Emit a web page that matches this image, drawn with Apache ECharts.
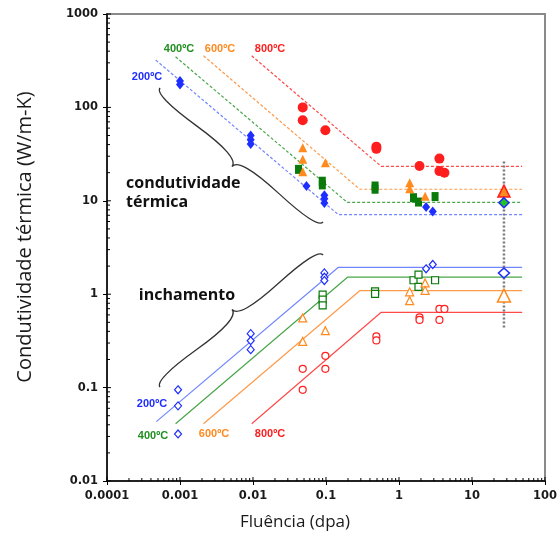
<!DOCTYPE html>
<html><head><meta charset="utf-8">
<script src="https://cdn.jsdelivr.net/npm/echarts@6/dist/echarts.min.js"></script>
<style>html,body{margin:0;padding:0;background:#fff}#c{width:560px;height:537px}</style>
</head><body><div id="c"></div>
<script>
// ---- axis tick labels ----
const xTickLabels = ['0.0001','0.001','0.01','0.1','1','10','100'];
const yTickLabels = ['0.01','0.1','1','10','100','1000'];

// ---- conductivity (filled markers) ----
const cond200 = [[0.001,192],[0.001,176],[0.0093,50],[0.0093,45],[0.0093,40.5],[0.054,14.4],[0.095,11.5],[0.095,10.5],[0.095,9.5],[2.35,8.6],[2.9,7.7]];
const cond400 = [[0.042,21.7],[0.089,16.2],[0.089,14.8],[0.47,14.4],[0.47,13.3],[1.58,10.8],[1.85,9.7],[3.12,11.1]];
const cond600 = [[0.048,37],[0.048,27.8],[0.048,20.5],[0.098,25.6],[1.4,15.6],[1.4,13.5],[2.28,11.2]];
const cond800 = [[0.048,100],[0.048,73],[0.098,57],[0.49,38],[0.49,36],[1.91,23.6],[3.58,28.3],[3.58,20.8],[4.19,20.0]];
const condSpecial600 = [[27.4,12.7]];
const condSpecial400 = [[27.4,9.55]];

// ---- swelling (open markers) ----
const sw200 = [[0.00094,0.0947],[0.00094,0.0638],[0.00094,0.0319],[0.0093,0.378],[0.0093,0.318],[0.0093,0.255],[0.095,1.69],[0.095,1.52],[0.095,1.40],[2.35,1.87],[2.9,2.08]];
const sw400 = [[0.09,0.99],[0.09,0.875],[0.09,0.76],[0.47,1.07],[0.47,1.01],[1.58,1.41],[1.85,1.62],[1.85,1.2],[3.12,1.41]];
const sw600 = [[0.048,0.557],[0.048,0.312],[0.098,0.407],[1.4,1.06],[1.4,0.853],[2.28,1.32],[2.28,1.1]];
const sw800 = [[0.048,0.159],[0.048,0.0947],[0.098,0.219],[0.098,0.159],[0.49,0.354],[0.49,0.32],[1.91,0.565],[1.91,0.53],[3.58,0.695],[4.19,0.695],[3.58,0.53]];
const swSpecial200 = [[27.4,1.69]];
const swSpecial600 = [[27.4,0.966]];

// ---- fitted trend lines (start, knee, end) ----
const condLine200 = [[0.000465,321],[0.148,7.1],[48.6,7.1]];
const condLine400 = [[0.00087,348],[0.196,9.6],[48.6,9.6]];
const condLine600 = [[0.0021,357],[0.29,13.3],[48.6,13.3]];
const condLine800 = [[0.0096,357],[0.57,23.4],[48.6,23.4]];
const swLine200 = [[0.000474,0.0432],[0.148,1.94],[48.6,1.94]];
const swLine400 = [[0.00087,0.041],[0.197,1.52],[48.6,1.52]];
const swLine600 = [[0.0021,0.041],[0.29,1.09],[48.6,1.09]];
const swLine800 = [[0.0096,0.041],[0.57,0.64],[48.6,0.64]];
const errorBar = [[27.4,26.3],[27.4,0.435]];

const BLUE='#1e2eff', GREEN='#0a7a0a', ORANGE='#ff8a1e', RED='#ff1e1e';
const LBLUE='#6f86ff', LGREEN='#4aa64a', LORANGE='#ff9a4a', LRED='#ff4a4a';

// minor tick values (2..9 per decade)
const xMinor=[], yMinor=[], xMajor=[], yMajor=[];
for(let e=-4;e<2;e++) for(let m=2;m<10;m++) xMinor.push([m*Math.pow(10,e)]);
for(let e=-2;e<3;e++) for(let m=2;m<10;m++) yMinor.push([m*Math.pow(10,e)]);
for(let e=-4;e<=2;e++) xMajor.push([Math.pow(10,e)]);
for(let e=-2;e<=3;e++) yMajor.push([Math.pow(10,e)]);

function tickSeries(data, isX, len){
  return {type:'custom', silent:true, clip:false, z:5, data:data,
    renderItem:function(params, api){
      const v = api.value(0);
      const p = isX ? api.coord([v, 0.01]) : api.coord([0.0001, v]);
      const shape = isX ? {x1:p[0],y1:p[1],x2:p[0],y2:p[1]-len} : {x1:p[0],y1:p[1],x2:p[0]+len,y2:p[1]};
      return {type:'line', shape:shape, style:{stroke:'#000', lineWidth:1}};
    }};
}

function lineS(data,color,dashed){
  return {type:'line', data:data, symbol:'none', silent:true, z:2,
    lineStyle:{color:color, width:1.2, type: dashed ? [3,2] : 'solid'}};
}
function scat(data,symbol,size,fill,stroke,bw){
  return {type:'scatter', data:data, symbol:symbol, symbolSize:size, z:4,
    itemStyle:{color:fill, borderColor:stroke, borderWidth:bw, opacity:1}};
}

function brace(x1,y1,x2,y2,w,q){
  let dx=x1-x2, dy=y1-y2; const len=Math.sqrt(dx*dx+dy*dy); dx/=len; dy/=len;
  const qx1=x1+q*w*dy, qy1=y1-q*w*dx;
  const qx2=(x1-.25*len*dx)+(1-q)*w*dy, qy2=(y1-.25*len*dy)-(1-q)*w*dx;
  const tx1=(x1-.5*len*dx)+w*dy, ty1=(y1-.5*len*dy)-w*dx;
  const qx3=x2+q*w*dy, qy3=y2-q*w*dx;
  const qx4=(x1-.75*len*dx)+(1-q)*w*dy, qy4=(y1-.75*len*dy)-(1-q)*w*dx;
  return 'M'+x1+' '+y1+' Q'+qx1+' '+qy1+' '+qx2+' '+qy2+' T'+tx1+' '+ty1+
         ' M'+x2+' '+y2+' Q'+qx3+' '+qy3+' '+qx4+' '+qy4+' T'+tx1+' '+ty1;
}
const braceSeries = {type:'custom', silent:true, clip:false, z:6, data:[[0]],
  renderItem:function(){
    return {type:'group', children:[
      {type:'path', shape:{pathData:brace(160,88,323,222,15,0.6)}, style:{fill:'none', stroke:'#333', lineWidth:1.3}},
      {type:'path', shape:{pathData:brace(323,255,160,387,15,0.6)}, style:{fill:'none', stroke:'#333', lineWidth:1.3}}
    ]};
  }};

const chart = echarts.init(document.getElementById('c'), null, {renderer:'canvas'});
const lblFont = {fontFamily:'DejaVu Sans', fontWeight:'bold', fontSize:11.5, color:'#1a1a1a'};
function tLabel(text,x,y,color,size){
  return {type:'text', x:x, y:y, z:10, style:{text:text, fill:color, font:'bold '+(size||11)+'px "Liberation Sans", Arial', textAlign:'center', textVerticalAlign:'middle'}};
}
const option = {
  animation:false,
  grid:{left:107, right:12, top:14, bottom:56, show:true, borderColor:'#8a8a8a', borderWidth:2},
  xAxis:{type:'log', logBase:10, min:0.0001, max:100,
    axisLine:{lineStyle:{color:'#000', width:1.5}},
    axisTick:{show:true, length:4, lineStyle:{color:'#000'}},
    splitLine:{show:false},
    axisLabel:Object.assign({margin:9, formatter:function(v){return xTickLabels[Math.round(Math.log10(v))+4];}}, lblFont)},
  yAxis:{type:'log', logBase:10, min:0.01, max:1000,
    axisLine:{lineStyle:{color:'#000', width:1.5}},
    axisTick:{show:true, length:4, lineStyle:{color:'#000'}},
    splitLine:{show:false},
    axisLabel:Object.assign({margin:9, formatter:function(v){return yTickLabels[Math.round(Math.log10(v))+2];}}, lblFont)},
  series:[
    lineS(condLine200,LBLUE,true), lineS(condLine400,LGREEN,true), lineS(condLine600,LORANGE,true), lineS(condLine800,LRED,true),
    lineS(swLine200,LBLUE,false), lineS(swLine400,LGREEN,false), lineS(swLine600,LORANGE,false), lineS(swLine800,LRED,false),
    {type:'line', data:errorBar, symbol:'none', silent:true, z:3, lineStyle:{color:'#7a7a7a', width:2.5, type:[2,2]}},
    scat(cond200,'diamond',[8,10],BLUE,BLUE,0),
    scat(cond400,'rect',[7,9],GREEN,GREEN,0),
    scat(cond600,'triangle',9,ORANGE,ORANGE,0),
    scat(cond800,'circle',10,RED,RED,0),
    scat(condSpecial600,'triangle',12,ORANGE,RED,1.5),
    scat(condSpecial400,'diamond',10,'#22c322',BLUE,1.5),
    scat(sw200,'diamond',[7,8],'#fff',BLUE,1.2),
    scat(sw400,'rect',7,'#fff',GREEN,1.2),
    scat(sw600,'triangle',8,'#fff',ORANGE,1.2),
    scat(sw800,'circle',7,'#fff',RED,1.2),
    scat(swSpecial200,'diamond',[11,10],'#fff',BLUE,1.5),
    scat(swSpecial600,'triangle',13,'#fff',ORANGE,1.5),
    tickSeries(xMinor,true,3), tickSeries(yMinor,false,3),
    tickSeries(xMajor,true,4), tickSeries(yMajor,false,4),
    braceSeries
  ],
  graphic:[
    {type:'text', x:25, y:237, rotation:Math.PI/2, z:10, style:{text:'Condutividade térmica (W/m-K)', fill:'#1a1a1a', font:'20px "Open Sans"', textAlign:'center', textVerticalAlign:'middle'}},
    {type:'text', x:295, y:522, z:10, style:{text:'Fluência (dpa)', fill:'#1a1a1a', font:'17px "Open Sans"', textAlign:'center', textVerticalAlign:'middle'}},
    tLabel('200ºC',147,77,BLUE), tLabel('400ºC',179,49,'#1f8f1f'), tLabel('600ºC',220,49,ORANGE), tLabel('800ºC',270,49,RED),
    tLabel('200ºC',152,404,BLUE), tLabel('400ºC',153,436,'#1f8f1f'), tLabel('600ºC',214,434,ORANGE), tLabel('800ºC',270,434,RED),
    {type:'text', x:126, y:183, z:10, style:{text:'condutividade', fill:'#111', font:'bold 16px "Open Sans"', textAlign:'left', textVerticalAlign:'middle'}},
    {type:'text', x:126, y:202, z:10, style:{text:'térmica', fill:'#111', font:'bold 16px "Open Sans"', textAlign:'left', textVerticalAlign:'middle'}},
    {type:'text', x:187, y:295, z:10, style:{text:'inchamento', fill:'#111', font:'bold 16px "Open Sans"', textAlign:'center', textVerticalAlign:'middle'}}
  ]
};
chart.setOption(option);
</script></body></html>
